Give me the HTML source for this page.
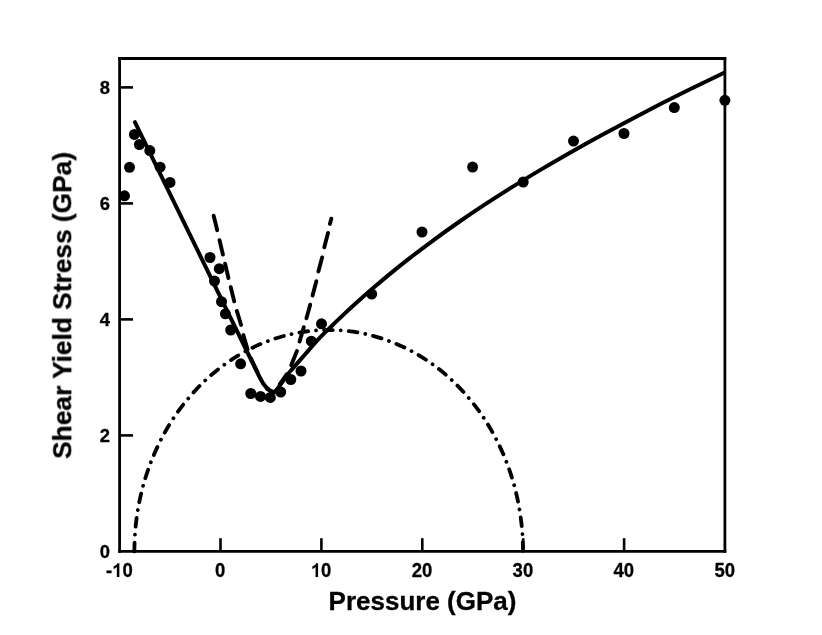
<!DOCTYPE html>
<html><head><meta charset="utf-8"><title>Shear Yield Stress vs Pressure</title>
<style>
html,body{margin:0;padding:0;background:#fff;}
body{width:822px;height:635px;overflow:hidden;font-family:"Liberation Sans",sans-serif;}
svg{display:block;}
text{font-family:"Liberation Sans",sans-serif;font-weight:bold;fill:#000;}
</style></head><body>
<svg width="822" height="635" viewBox="0 0 822 635">
<rect x="0" y="0" width="822" height="635" fill="#fff"/>
<g fill="none" stroke="#000" stroke-width="3.8" stroke-linecap="round" stroke-dasharray="8.8 7.98 0.01 7.98"><path d="M134.40,551.40 A194.30,221.40 0 0 1 523.00,551.40"/></g>
<g fill="none" stroke="#000" stroke-width="3.9" stroke-linecap="round"><line x1="213.67" y1="215.72" x2="217.23" y2="230.18"/><line x1="219.56" y1="240.22" x2="222.94" y2="254.58"/><line x1="225.06" y1="263.62" x2="228.44" y2="277.98"/><line x1="230.68" y1="287.02" x2="234.22" y2="301.38"/><line x1="236.83" y1="310.90" x2="241.07" y2="325.00"/><line x1="243.33" y1="335.10" x2="247.57" y2="349.40"/><line x1="331.30" y1="218.71" x2="329.90" y2="223.89"/><line x1="328.01" y1="232.91" x2="324.29" y2="247.29"/><line x1="322.11" y1="257.41" x2="318.39" y2="271.59"/><line x1="316.31" y1="281.21" x2="312.59" y2="295.59"/><line x1="310.19" y1="304.71" x2="306.41" y2="318.29"/><line x1="303.77" y1="327.20" x2="299.53" y2="341.60"/><line x1="296.97" y1="351.07" x2="291.23" y2="365.23"/><line x1="286.74" y1="374.34" x2="279.66" y2="384.46"/><line x1="251.00" y1="358.64" x2="257.40" y2="371.96"/><line x1="267.20" y1="389.16" x2="272.00" y2="391.84"/></g>
<defs><clipPath id="cp"><rect x="100" y="50" width="625.5" height="510"/></clipPath></defs>
<path clip-path="url(#cp)" d="M134.9,122.2 L259.5,377.0 C263.5,385.2 268.0,391.6 274.5,392.2 L278.6,387.3  C279.38,386.18 281.72,382.83 283.30,380.60 C284.88,378.37 286.55,375.90 288.10,373.90 C289.65,371.90 289.75,371.88 292.60,368.60 C295.45,365.32 301.00,358.98 305.20,354.20 C309.40,349.42 313.60,344.39 317.80,339.90 C322.00,335.40 326.20,331.35 330.40,327.23 C334.60,323.11 338.80,319.11 343.00,315.16 C347.20,311.21 350.77,307.88 355.60,303.53 C360.43,299.17 366.27,293.97 372.00,289.03 C377.73,284.09 383.67,279.07 390.00,273.88 C396.33,268.69 402.50,263.70 410.00,257.89 C417.50,252.08 426.67,245.13 435.00,239.02 C443.33,232.91 451.67,227.01 460.00,221.24 C468.33,215.47 476.67,209.89 485.00,204.42 C493.33,198.95 500.83,194.13 510.00,188.42 C519.17,182.71 530.00,176.09 540.00,170.14 C550.00,164.19 560.00,158.40 570.00,152.71 C580.00,147.02 590.00,141.47 600.00,136.00 C610.00,130.53 620.00,125.18 630.00,119.90 C640.00,114.62 650.00,109.44 660.00,104.34 C670.00,99.24 679.23,94.59 690.00,89.30 C700.77,84.00 718.83,75.36 724.60,72.57" fill="none" stroke="#000" stroke-width="4.0" stroke-linecap="round" stroke-linejoin="round"/>
<g fill="#000"><circle cx="124.5" cy="195.8" r="5.5"/><circle cx="129.5" cy="167.3" r="5.5"/><circle cx="134.4" cy="134.4" r="5.5"/><circle cx="139.4" cy="144.6" r="5.5"/><circle cx="149.8" cy="150.6" r="5.5"/><circle cx="160.1" cy="167.2" r="5.5"/><circle cx="170.0" cy="182.4" r="5.5"/><circle cx="210.0" cy="257.5" r="5.5"/><circle cx="214.5" cy="281.0" r="5.5"/><circle cx="219.3" cy="268.7" r="5.5"/><circle cx="221.5" cy="301.7" r="5.5"/><circle cx="225.4" cy="313.8" r="5.5"/><circle cx="230.7" cy="330.0" r="5.5"/><circle cx="240.6" cy="363.8" r="5.5"/><circle cx="250.8" cy="393.5" r="5.5"/><circle cx="260.5" cy="396.4" r="5.5"/><circle cx="270.3" cy="397.4" r="5.5"/><circle cx="280.7" cy="392.0" r="5.5"/><circle cx="290.8" cy="379.5" r="5.5"/><circle cx="301.0" cy="371.0" r="5.5"/><circle cx="311.3" cy="341.2" r="5.5"/><circle cx="321.5" cy="323.8" r="5.5"/><circle cx="371.7" cy="294.1" r="5.5"/><circle cx="422.0" cy="232.0" r="5.5"/><circle cx="472.6" cy="167.1" r="5.5"/><circle cx="523.2" cy="182.0" r="5.5"/><circle cx="573.5" cy="141.1" r="5.5"/><circle cx="624.0" cy="133.5" r="5.5"/><circle cx="674.3" cy="107.6" r="5.5"/><circle cx="724.9" cy="100.3" r="5.5"/></g>
<g stroke="#000" stroke-width="2.6" fill="none"><line x1="220.50" y1="551.40" x2="220.50" y2="538.20"/><line x1="321.40" y1="551.40" x2="321.40" y2="538.20"/><line x1="422.30" y1="551.40" x2="422.30" y2="538.20"/><line x1="523.20" y1="551.40" x2="523.20" y2="538.20"/><line x1="624.10" y1="551.40" x2="624.10" y2="538.20"/><line x1="119.60" y1="435.40" x2="133.00" y2="435.40"/><line x1="119.60" y1="319.40" x2="133.00" y2="319.40"/><line x1="119.60" y1="203.40" x2="133.00" y2="203.40"/><line x1="119.60" y1="87.40" x2="133.00" y2="87.40"/></g>
<g stroke="#000" fill="none" stroke-linecap="square">
<line x1="119.6" y1="58.5" x2="119.6" y2="551.4" stroke-width="2.8"/>
<line x1="119.6" y1="551.4" x2="724.9" y2="551.4" stroke-width="2.8"/>
<line x1="724.9" y1="58.5" x2="724.9" y2="551.4" stroke-width="2.8"/>
<line x1="119.6" y1="58.5" x2="724.9" y2="58.5" stroke-width="2.8"/>
</g>
<g font-size="19.3" opacity="0.999" fill="#000" stroke="#000" stroke-width="0.3"><text transform="translate(105.91,577.00) scale(0.960,1)">-</text><path transform="translate(112.08,577.00) scale(0.009047,-0.009424)" d="M806,0 H525 V1059 Q371,915 162,846 V1101 Q272,1137 401,1237.5 Q530,1338 578,1472 H806 Z" stroke="none"/><text transform="translate(122.38,577.00) scale(0.960,1)">0</text><text transform="translate(220.20,577.00) scale(0.960,1)" text-anchor="middle">0</text><path transform="translate(310.80,577.00) scale(0.009047,-0.009424)" d="M806,0 H525 V1059 Q371,915 162,846 V1101 Q272,1137 401,1237.5 Q530,1338 578,1472 H806 Z" stroke="none"/><text transform="translate(321.10,577.00) scale(0.960,1)">0</text><text transform="translate(422.00,577.00) scale(0.960,1)" text-anchor="middle">20</text><text transform="translate(522.90,577.00) scale(0.960,1)" text-anchor="middle">30</text><text transform="translate(623.80,577.00) scale(0.960,1)" text-anchor="middle">40</text><text transform="translate(724.70,577.00) scale(0.960,1)" text-anchor="middle">50</text><text font-size="18.4" transform="translate(110.1,558.20) scale(1.000,1)" text-anchor="end">0</text><text font-size="18.4" transform="translate(110.1,442.20) scale(1.000,1)" text-anchor="end">2</text><text font-size="18.4" transform="translate(110.1,326.20) scale(1.000,1)" text-anchor="end">4</text><text font-size="18.4" transform="translate(110.1,210.20) scale(1.000,1)" text-anchor="end">6</text><text font-size="18.4" transform="translate(110.1,94.20) scale(1.000,1)" text-anchor="end">8</text></g>
<g opacity="0.999" stroke="#000" stroke-width="0.3"><text transform="translate(422.5,609.5)" font-size="26" text-anchor="middle">Pressure (GPa)</text>
<text transform="translate(71.2,305.4) rotate(-90)" font-size="26.3" text-anchor="middle">Shear Yield Stress (GPa)</text></g>
</svg>
</body></html>
